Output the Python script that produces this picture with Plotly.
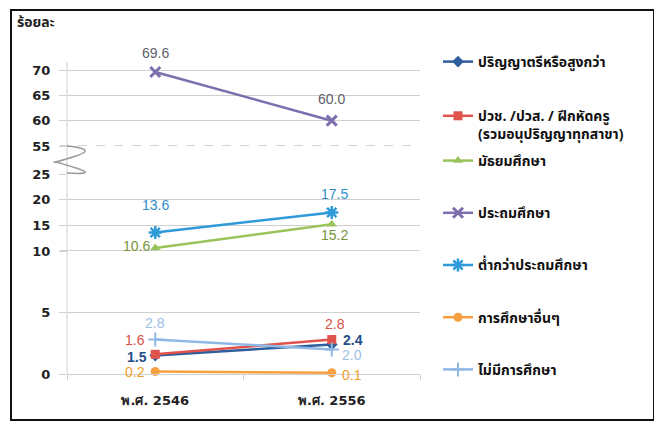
import plotly.graph_objects as go

years = ["พ.ศ. 2546", "พ.ศ. 2556"]
names = [
    "ปริญญาตรีหรือสูงกว่า",
    "ปวช. /ปวส. / ฝึกหัดครู<br>(รวมอนุปริญญาทุกสาขา)",
    "มัธยมศึกษา",
    "ประถมศึกษา",
    "ต่ำกว่าประถมศึกษา",
    "การศึกษาอื่นๆ",
    "ไม่มีการศึกษา",
]
bachelor = [1.5, 2.4]
vocational = [1.6, 2.8]
secondary = [10.6, 15.2]
primary = [69.6, 60.0]
below_primary = [13.6, 17.5]
other_edu = [0.2, 0.1]
no_edu = [2.8, 2.0]

ticks_low = [0, 5]
ticks_mid = [10, 15, 20, 25]
ticks_top = [55, 60, 65, 70]

OFF = 8  # browser body margin
W, H = 662 - OFF, 424 - OFF
L, R, T, B = 67 - OFF, 420 - OFF, 62 - OFF, 374 - OFF


def px(x):
    return (x - OFF - L) / (R - L)


def py(y):
    return (B - (y - OFF)) / (B - T)


# label placement: (xanchor, xshift, yshift) per point
series = [
    dict(name=names[0], y=bachelor, color="#2F5E9C", tcolor="#1F4E8A", sym="diamond", size=9, axis="y",
         lab=[("right", -6, -1), ("left", 9, 4)], lw=0, leg="legend", bold=True),
    dict(name=names[1], y=vocational, color="#E0524C", tcolor="#D9504A", sym="square", size=9, axis="y",
         lab=[("right", -8, 14), ("center", 3, 16)], lw=0, leg="legend", bold=False),
    dict(name=names[2], y=secondary, color="#9BC35A", tcolor="#77933C", sym="triangle-up", size=9, axis="y2",
         lab=[("right", -3, 2), ("center", 3, -11)], lw=0, leg="legend2", bold=False),
    dict(name=names[3], y=primary, color="#7D6FAD", tcolor="#5F5F6A", sym="x-thin", size=10, axis="y3",
         lab=[("center", 0, 19), ("center", 0, 22)], lw=3, leg="legend2", bold=False),
    dict(name=names[4], y=below_primary, color="#2E9AD8", tcolor="#2E8FCC", sym="asterisk", size=11, axis="y2",
         lab=[("center", 0, 28), ("center", 3, 19)], lw=2.5, leg="legend2", bold=False),
    dict(name=names[5], y=other_edu, color="#F5A040", tcolor="#F0A030", sym="circle", size=9, axis="y",
         lab=[("right", -8, 0), ("left", 8, -2)], lw=0, leg="legend2", bold=False),
    dict(name=names[6], y=no_edu, color="#8FB8E4", tcolor="#9CC0E6", sym="cross-thin", size=10, axis="y",
         lab=[("center", 0, 17), ("left", 8, -6)], lw=2, leg="legend2", bold=False),
]

fig = go.Figure()
for i, s in enumerate(series):
    marker = dict(symbol=s["sym"], size=s["size"], color=s["color"])
    if s["lw"]:
        marker["line"] = dict(color=s["color"], width=s["lw"])
    fig.add_trace(go.Scatter(
        x=years, y=s["y"], name=s["name"], yaxis=s["axis"],
        mode="lines+markers",
        line=dict(color=s["color"], width=2.5),
        marker=marker,
        cliponaxis=False,
        legend=s["leg"],
        legendgroup="g%d" % i,
    ))
    for j, (xa, xs, ys) in enumerate(s["lab"]):
        fig.add_annotation(
            x=years[j], y=s["y"][j], xref="x", yref=s["axis"],
            text="%.1f" % s["y"][j], showarrow=False,
            xanchor=xa, yanchor="middle", xshift=xs, yshift=ys,
            font=dict(size=14, color=s["tcolor"], family="Liberation Sans, Arial, sans-serif",
                      weight="bold" if s["bold"] else "normal"),
        )

grid = "#CFCFCF"
tickfont = dict(size=13, color="#222222", family="DejaVu Sans, sans-serif", weight="bold")
common_y = dict(showgrid=True, gridcolor=grid, gridwidth=1, zeroline=False, ticks="outside",
                ticklen=7, tickcolor=grid, tickfont=tickfont, anchor="x", showline=False,
                ticklabelstandoff=6, fixedrange=True)

legfont = dict(size=14, color="#111111", family="Noto Sans Thai, Tahoma, sans-serif", weight="bold")
legcommon = dict(xanchor="left", yanchor="top", font=legfont, valign="top", itemwidth=30,
                 bgcolor="rgba(0,0,0,0)", maxheight=400)

fig.update_layout(
    width=W, height=H,
    margin=dict(l=L, r=W - R, t=T, b=H - B),
    paper_bgcolor="white", plot_bgcolor="white",
    showlegend=True,
    legend=dict(x=px(438), y=py(46), tracegroupgap=33, **legcommon),
    legend2=dict(x=px(438), y=py(145), tracegroupgap=31, **legcommon),
    xaxis=dict(type="category", range=[-0.5, 1.5], showgrid=False, zeroline=False,
               showline=True, linecolor=grid, ticks="outside", tickson="boundaries", ticklen=5,
               tickcolor=grid, tickfont=tickfont, ticklabelstandoff=14),
    yaxis=dict(domain=[0, py(251)], range=[0, 10], tickvals=ticks_low, **common_y),
    yaxis2=dict(domain=[py(251), py(174)], range=[10, 25], tickvals=ticks_mid, **common_y),
    yaxis3=dict(domain=[py(146), 1], range=[55, 70 + 8 * 15 / 76], tickvals=ticks_top, **common_y),
)

# darker gridlines at the segment edges (10 and 55)
tick_x0 = -7 / (R - L)
fig.add_shape(type="line", xref="paper", yref="y2", x0=tick_x0, x1=1, y0=10, y1=10,
              line=dict(color="#A8A8A8", width=1.2), layer="below")
fig.add_shape(type="line", xref="paper", yref="y3", x0=tick_x0, x1=1, y0=55, y1=55,
              line=dict(color="#A8A8A8", width=1.2, dash="dash"), layer="below")

# vertical axis line
fig.add_shape(type="line", xref="paper", yref="paper", x0=0, x1=0, y0=0, y1=1,
              line=dict(color=grid, width=1))

# axis break squiggle
path = "M {} {} Q {} {} {} {} T {} {} T {} {} T {} {}".format(
    px(67), py(146),
    px(98), py(149), px(76), py(156),
    px(54), py(162),
    px(76), py(168),
    px(67), py(173),
)
fig.add_shape(type="path", xref="paper", yref="paper", path=path,
              line=dict(color="#9A9A9A", width=1.5))

# outer frame
fig.add_shape(type="rect", xref="paper", yref="paper",
              x0=px(11), x1=px(654), y0=py(420), y1=py(10),
              line=dict(color="#111111", width=2), fillcolor="rgba(0,0,0,0)")

fig.add_annotation(text="ร้อยละ", xref="paper", yref="paper", x=px(36), y=py(22),
                   showarrow=False, xanchor="center", yanchor="middle",
                   font=dict(size=14, color="#222222", family="Noto Sans Thai, Tahoma, sans-serif", weight="bold"))

fig.write_html("out.html")
